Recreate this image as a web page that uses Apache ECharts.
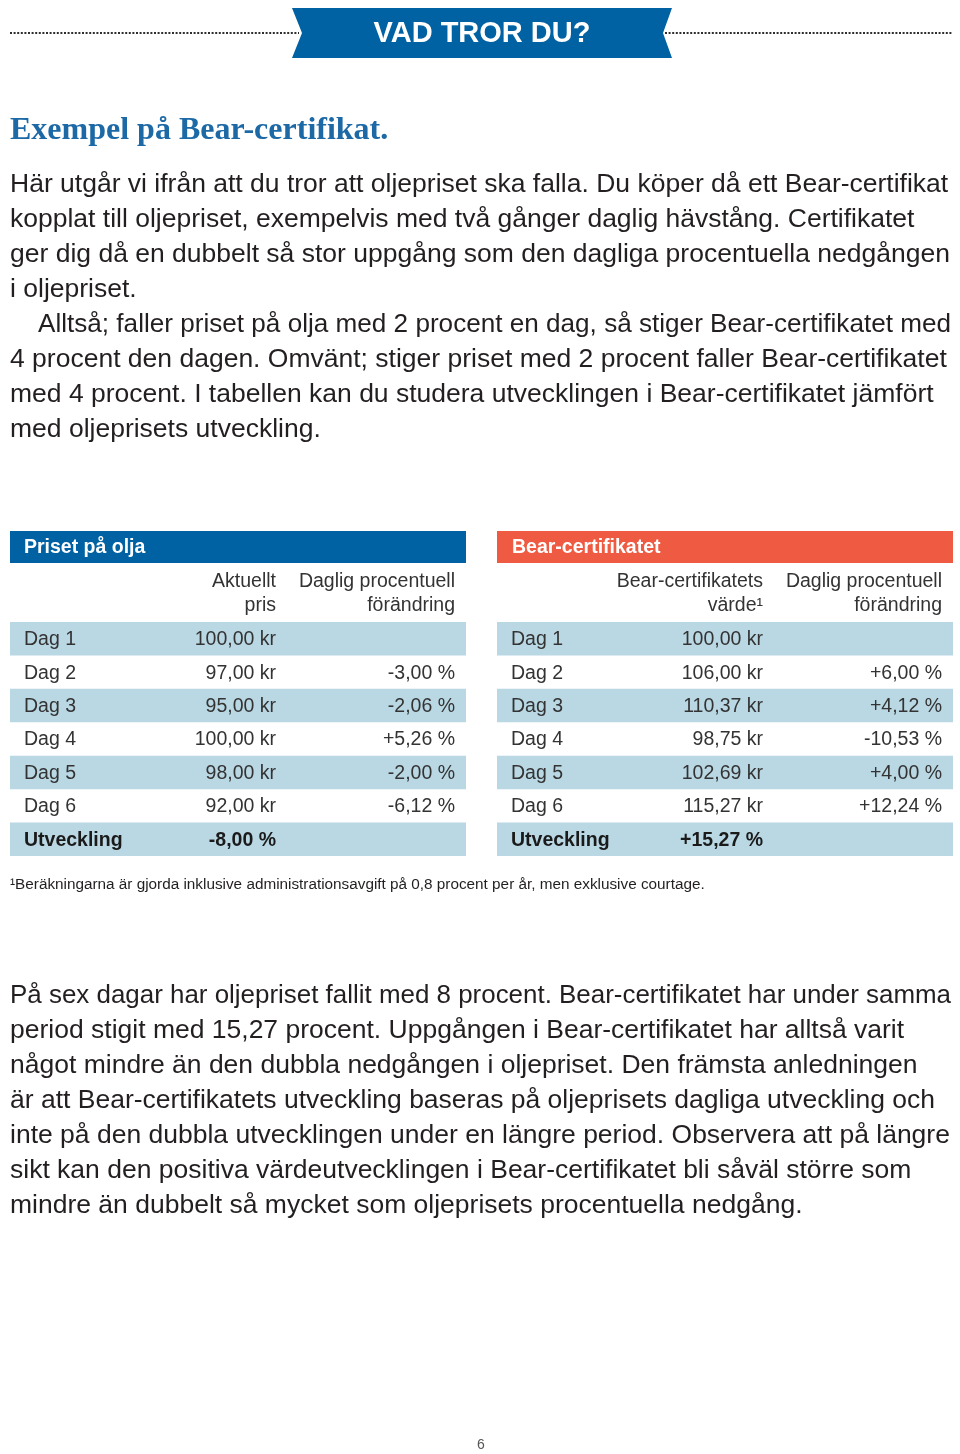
<!DOCTYPE html>
<html>
<head>
<meta charset="utf-8">
<script src="https://cdn.jsdelivr.net/npm/echarts@6/dist/echarts.min.js"></script>
<style>
html,body{margin:0;padding:0;background:#fff;}
#chart{width:960px;height:1454px;}
</style>
</head>
<body>
<div id="chart"></div>
<script>
// ---------- DATA ----------
const bannerTitle = 'VAD TROR DU?';
const heading = 'Exempel på Bear-certifikat.';
const introLines = [
  'Här utgår vi ifrån att du tror att oljepriset ska falla. Du köper då ett Bear-certifikat',
  'kopplat till oljepriset, exempelvis med två gånger daglig hävstång. Certifikatet',
  'ger dig då en dubbelt så stor uppgång som den dagliga procentuella nedgången',
  'i oljepriset.',
  'Alltså; faller priset på olja med 2 procent en dag, så stiger Bear-certifikatet med',
  '4 procent den dagen. Omvänt; stiger priset med 2 procent faller Bear-certifikatet',
  'med 4 procent. I tabellen kan du studera utvecklingen i Bear-certifikatet jämfört',
  'med oljeprisets utveckling.'
];
const introIndented = [false, false, false, false, true, false, false, false];

const rowLabels = ['Dag 1', 'Dag 2', 'Dag 3', 'Dag 4', 'Dag 5', 'Dag 6', 'Utveckling'];

const oilTitle = 'Priset på olja';
const oilColHeads = [['Aktuellt', 'pris'], ['Daglig procentuell', 'förändring']];
const oilPrice = [100.00, 97.00, 95.00, 100.00, 98.00, 92.00];
const oilChange = [null, -3.00, -2.06, 5.26, -2.00, -6.12];
const oilTotal = -8.00;

const bearTitle = 'Bear-certifikatet';
const bearColHeads = [['Bear-certifikatets', 'värde\u00B9'], ['Daglig procentuell', 'förändring']];
const bearValue = [100.00, 106.00, 110.37, 98.75, 102.69, 115.27];
const bearChange = [null, 6.00, 4.12, -10.53, 4.00, 12.24];
const bearTotal = 15.27;

const footnote = '\u00B9Beräkningarna är gjorda inklusive administrationsavgift på 0,8 procent per år, men exklusive courtage.';

const outroLines = [
  'På sex dagar har oljepriset fallit med 8 procent. Bear-certifikatet har under samma',
  'period stigit med 15,27 procent. Uppgången i Bear-certifikatet har alltså varit',
  'något mindre än den dubbla nedgången i oljepriset. Den främsta anledningen',
  'är att Bear-certifikatets utveckling baseras på oljeprisets dagliga utveckling och',
  'inte på den dubbla utvecklingen under en längre period. Observera att på längre',
  'sikt kan den positiva värdeutvecklingen i Bear-certifikatet bli såväl större som',
  'mindre än dubbelt så mycket som oljeprisets procentuella nedgång.'
];
const pageNumber = '6';

// ---------- HELPERS ----------
function fmtNum(v) { return v.toFixed(2).replace('.', ','); }
function fmtKr(v) { return fmtNum(v) + ' kr'; }
function fmtPct(v) {
  if (v === null || v === undefined) return '';
  return (v > 0 ? '+' : '') + fmtNum(v) + ' %';
}

function buildRows(values, changes, total) {
  const rows = [];
  for (let i = 0; i < values.length; i++) {
    rows.push([0, i, fmtKr(values[i]), fmtPct(changes[i]), 0]);
  }
  rows.push([0, values.length, fmtPct(total), '', 1]);
  return rows;
}

const SANS = '"Liberation Sans", Arial, Helvetica, sans-serif';
const TEXT_DARK = '#231f20';
const TABLE_TEXT = '#333333';
const BLUE = '#0062a2';
const CORAL = '#ef5b42';
const SHADE = '#bad8e4';
const TFS = 19.5;
const BODY_FS = 26.5;
const RIGHT_LIMIT = 951;

const measureCtx = document.createElement('canvas').getContext('2d');
function measure(text, size, weight, family) {
  measureCtx.font = (weight || 'normal') + ' ' + size + 'px ' + family;
  return measureCtx.measureText(text).width;
}

function renderRow(params, api) {
  const idx = api.value(1);
  const cs = params.coordSys;
  const c = api.coord([0, idx]);
  const bandH = api.size([0, 1])[1];
  const top = c[1] - bandH / 2;
  const valX = api.coord([266, idx])[0];
  const chgX = api.coord([445, idx])[0];
  const labX = api.coord([14, idx])[0];
  const bold = api.value(4) === 1;
  const children = [];
  if (idx % 2 === 0) {
    children.push({
      type: 'rect',
      shape: { x: cs.x, y: top, width: cs.width, height: bandH },
      style: { fill: SHADE }
    });
  }
  const baseStyle = {
    fill: bold ? '#1a1a1a' : TABLE_TEXT,
    fontSize: TFS,
    fontFamily: SANS,
    fontWeight: bold ? 'bold' : 'normal',
    verticalAlign: 'middle'
  };
  children.push({ type: 'text', style: Object.assign({}, baseStyle, { text: rowLabels[idx], x: labX, y: c[1] + 1, align: 'left' }) });
  children.push({ type: 'text', style: Object.assign({}, baseStyle, { text: api.value(2), x: valX, y: c[1] + 1, align: 'right' }) });
  children.push({ type: 'text', style: Object.assign({}, baseStyle, { text: api.value(3), x: chgX, y: c[1] + 1, align: 'right' }) });
  return { type: 'group', children: children };
}

// ---------- GRAPHIC (static page text) ----------
const graphics = [];
function txt(text, x, y, opts, scaleX) {
  const el = {
    type: 'text',
    x: x, y: y,
    silent: true,
    style: Object.assign({
      text: text,
      fill: TEXT_DARK,
      fontSize: BODY_FS,
      fontFamily: SANS,
      textAlign: 'left', align: 'left',
      textVerticalAlign: 'middle', verticalAlign: 'middle'
    }, opts || {})
  };
  if (scaleX) { el.scaleX = scaleX; }
  graphics.push(el);
}
function bodyLine(text, x, y) {
  const w = measure(text, BODY_FS, 'normal', SANS);
  let s = 1;
  if (x + w > RIGHT_LIMIT) s = (RIGHT_LIMIT - x) / w;
  txt(text, x, y, null, s);
}

// dotted rules
graphics.push({ type: 'line', silent: true, shape: { x1: 10, y1: 33, x2: 299, y2: 33 }, style: { stroke: '#2e2e2e', lineWidth: 2, lineDash: [2, 1.6] } });
graphics.push({ type: 'line', silent: true, shape: { x1: 665, y1: 33, x2: 953, y2: 33 }, style: { stroke: '#2e2e2e', lineWidth: 2, lineDash: [2, 1.6] } });
// banner
graphics.push({
  type: 'polygon', silent: true,
  shape: { points: [[292, 8], [672, 8], [663, 33], [672, 58], [292, 58], [302, 33]] },
  style: { fill: BLUE }
});
txt(bannerTitle, 482, 34, { fill: '#ffffff', fontSize: 29, fontWeight: 'bold', textAlign: 'center', align: 'center' });

// heading
txt(heading, 10, 131, { fill: '#1c69a6', fontSize: 32, fontWeight: 'bold', fontFamily: '"Liberation Serif", "Times New Roman", serif' });

// intro paragraph
introLines.forEach(function (line, i) {
  bodyLine(line, introIndented[i] ? 38 : 10, 185 + i * 35);
});

// table headers
graphics.push({ type: 'rect', silent: true, shape: { x: 10, y: 531, width: 456, height: 32 }, style: { fill: BLUE } });
graphics.push({ type: 'rect', silent: true, shape: { x: 497, y: 531, width: 456, height: 32 }, style: { fill: CORAL } });
txt(oilTitle, 24, 548, { fill: '#ffffff', fontSize: 19.5, fontWeight: 'bold' });
txt(bearTitle, 512, 548, { fill: '#ffffff', fontSize: 19.5, fontWeight: 'bold' });

const colRight = [266, 445];
[[10, oilColHeads], [497, bearColHeads]].forEach(function (t) {
  t[1].forEach(function (lines, ci) {
    lines.forEach(function (l, li) {
      txt(l, t[0] + colRight[ci], 582 + li * 24, { fill: TABLE_TEXT, fontSize: TFS, textAlign: 'right', align: 'right' });
    });
  });
});

// footnote
txt(footnote, 10, 885, { fill: TEXT_DARK, fontSize: 15.3 });

// outro paragraph
outroLines.forEach(function (line, i) {
  bodyLine(line, 10, 996 + i * 35);
});

// page number
txt(pageNumber, 481, 1445, { fill: '#555555', fontSize: 14, textAlign: 'center', align: 'center' });

// ---------- CHART ----------
const chart = echarts.init(document.getElementById('chart'), null, { renderer: 'canvas' });
const option = {
  animation: false,
  backgroundColor: '#ffffff',
  grid: [
    { left: 10, top: 622, width: 456, height: 234 },
    { left: 497, top: 622, width: 456, height: 234 }
  ],
  xAxis: [
    { gridIndex: 0, type: 'value', min: 0, max: 456, show: false },
    { gridIndex: 1, type: 'value', min: 0, max: 456, show: false }
  ],
  yAxis: [
    { gridIndex: 0, type: 'category', data: rowLabels, inverse: true, show: false },
    { gridIndex: 1, type: 'category', data: rowLabels, inverse: true, show: false }
  ],
  series: [
    { type: 'custom', name: oilTitle, xAxisIndex: 0, yAxisIndex: 0, renderItem: renderRow, data: buildRows(oilPrice, oilChange, oilTotal), encode: { x: 0, y: 1 }, silent: true },
    { type: 'custom', name: bearTitle, xAxisIndex: 1, yAxisIndex: 1, renderItem: renderRow, data: buildRows(bearValue, bearChange, bearTotal), encode: { x: 0, y: 1 }, silent: true }
  ],
  graphic: graphics
};
chart.setOption(option);
</script>
</body>
</html>
